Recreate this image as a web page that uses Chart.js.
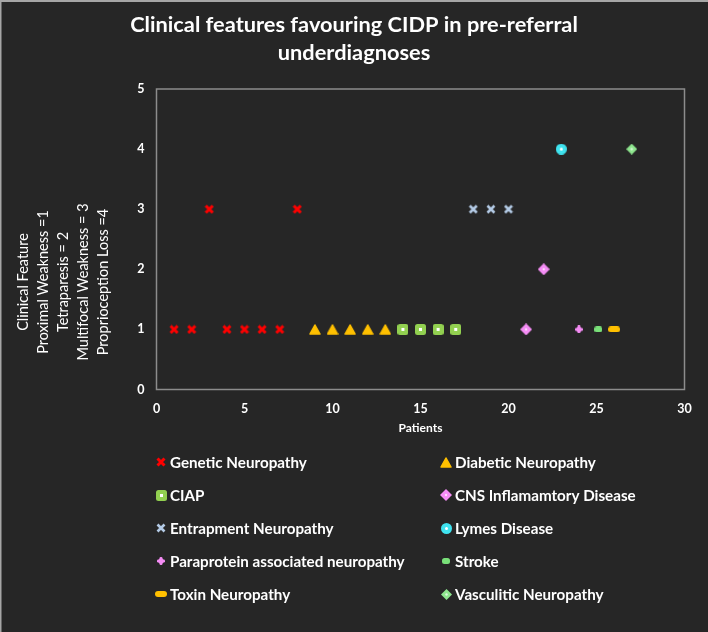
<!DOCTYPE html>
<html>
<head>
<meta charset="utf-8">
<script src="https://cdn.jsdelivr.net/npm/chart.js@4"></script>
<style>
  html, body { margin: 0; padding: 0; background: #262626; }
  canvas { display: block; }
</style>
</head>
<body>
<canvas id="c" width="708" height="632"></canvas>
<script>
// ---------- data ----------
const seriesNames = [
  "Genetic Neuropathy", "Diabetic Neuropathy", "CIAP", "CNS Inflamamtory Disease",
  "Entrapment Neuropathy", "Lymes Disease", "Paraprotein associated neuropathy", "Stroke",
  "Toxin Neuropathy", "Vasculitic Neuropathy"
];
const geneticX = [1, 2, 3, 4, 5, 6, 7, 8];
const geneticY = [1, 1, 3, 1, 1, 1, 1, 3];
const diabeticX = [9, 10, 11, 12, 13];
const diabeticY = [1, 1, 1, 1, 1];
const ciapX = [14, 15, 16, 17];
const ciapY = [1, 1, 1, 1];
const cnsX = [21, 22];
const cnsY = [1, 2];
const entrapmentX = [18, 19, 20];
const entrapmentY = [3, 3, 3];
const lymesX = [23];
const lymesY = [4];
const paraproteinX = [24];
const paraproteinY = [1];
const strokeX = [25.1];
const strokeY = [1];
const toxinX = [26];
const toxinY = [1];
const vasculiticX = [27];
const vasculiticY = [4];

const xTicks = [0, 5, 10, 15, 20, 25, 30];
const yTicks = [0, 1, 2, 3, 4, 5];
const titleLines = ["Clinical features favouring CIDP in pre-referral", "underdiagnoses"];
const xTitle = "Patients";
const yTitleLines = ["Clinical Feature", "Proximal Weakness =1", "Tetraparesis = 2", "Multifocal Weakness = 3", "Proprioception Loss =4"];

// ---------- marker images ----------
function mk(w, h, fn) {
  const c = document.createElement('canvas');
  c.width = w; c.height = h;
  fn(c.getContext('2d'), w, h);
  return c;
}
function cross(color, lw) {
  return mk(10, 10, (g) => {
    g.strokeStyle = color; g.lineWidth = lw; g.lineCap = 'butt';
    g.beginPath(); g.moveTo(1.5, 1.5); g.lineTo(8.5, 8.5); g.moveTo(8.5, 1.5); g.lineTo(1.5, 8.5); g.stroke();
  });
}
function diamond(color, s) {
  return mk(s, s, (g) => {
    g.fillStyle = color;
    g.beginPath(); g.moveTo(s / 2, 0); g.lineTo(s, s / 2); g.lineTo(s / 2, s); g.lineTo(0, s / 2); g.closePath(); g.fill();
    g.fillStyle = 'rgba(255,255,255,0.7)';
    g.beginPath(); g.arc(s / 2, s / 2, 1.2, 0, Math.PI * 2); g.fill();
  });
}
const markers = [
  cross('#FF0000', 3),
  mk(12, 11, (g) => {
    g.fillStyle = '#FFC000'; g.strokeStyle = '#FFC000'; g.lineJoin = 'round'; g.lineWidth = 1.5;
    g.beginPath(); g.moveTo(6, 1); g.lineTo(11, 10); g.lineTo(1, 10); g.closePath(); g.fill(); g.stroke();
  }),
  mk(11, 11, (g) => {
    g.fillStyle = '#92D050'; g.beginPath(); g.roundRect(0, 0, 11, 11, 2.5); g.fill();
    g.fillStyle = '#FFFFFF'; g.fillRect(4, 4, 3, 3);
  }),
  diamond('#F48CF4', 12),
  cross('#B4CBE6', 2.6),
  mk(11, 11, (g) => {
    g.fillStyle = '#3FE3EF'; g.beginPath(); g.arc(5.5, 5.5, 5.5, 0, Math.PI * 2); g.fill();
    g.fillStyle = '#FFFFFF'; g.beginPath(); g.arc(5.5, 5.5, 1.5, 0, Math.PI * 2); g.fill();
  }),
  mk(8, 8, (g) => {
    g.fillStyle = '#F48CF4';
    g.beginPath(); g.roundRect(2.5, 0, 3, 8, 1.2); g.fill();
    g.beginPath(); g.roundRect(0, 2.5, 8, 3, 1.2); g.fill();
    g.beginPath(); g.arc(4, 4, 2.6, 0, Math.PI * 2); g.fill();
  }),
  mk(8, 6, (g) => {
    g.fillStyle = '#79E079'; g.beginPath(); g.roundRect(0, 0, 8, 6, 2.5); g.fill();
  }),
  mk(12, 6, (g) => {
    g.fillStyle = '#FFC000'; g.beginPath(); g.roundRect(0, 0, 12, 6, 3); g.fill();
  }),
  diamond('#8EE68E', 11)
];

function pts(xs, ys) { return xs.map((x, i) => ({ x: x, y: ys[i] })); }
const seriesData = [
  pts(geneticX, geneticY), pts(diabeticX, diabeticY), pts(ciapX, ciapY), pts(cnsX, cnsY),
  pts(entrapmentX, entrapmentY), pts(lymesX, lymesY), pts(paraproteinX, paraproteinY),
  pts(strokeX, strokeY), pts(toxinX, toxinY), pts(vasculiticX, vasculiticY)
];

const FONT = "Lato, 'Open Sans', sans-serif";
const mctx = document.createElement('canvas').getContext('2d');
function fitSize(text, weight, targetW) {
  mctx.font = weight + ' 20px ' + FONT;
  return 20 * targetW / mctx.measureText(text).width;
}
const titleSize = fitSize(titleLines[0], 'bold', 448);
const legendSize = fitSize(seriesNames[0], 'bold', 137);

const PLOT = { left: 156.5, right: 684.5, top: 89, bottom: 389.5 };

const decor = {
  id: 'decor',
  beforeDraw(chart) {
    const g = chart.ctx;
    g.save();
    g.fillStyle = '#262626';
    g.fillRect(0, 0, chart.width, chart.height);
    g.restore();
  },
  afterDraw(chart) {
    const g = chart.ctx;
    const a = chart.chartArea;
    g.save();
    // outer border
    g.fillStyle = '#A6A6A6';
    g.fillRect(0, 0, chart.width, 2);
    g.fillRect(0, 0, 1.5, chart.height);
    // plot border
    g.strokeStyle = '#8C8C8C';
    g.lineWidth = 1.5;
    g.strokeRect(a.left, a.top, a.right - a.left, a.bottom - a.top);
    // title
    g.fillStyle = '#FFFFFF';
    g.textAlign = 'center';
    g.textBaseline = 'middle';
    g.font = 'bold ' + titleSize + 'px ' + FONT;
    g.fillText(titleLines[0], 354, 25);
    g.fillText(titleLines[1], 354, 53);
    // x title
    g.font = 'bold 12px ' + FONT;
    g.fillText(xTitle, (a.left + a.right) / 2, 428);
    // y title (rotated, multiline, centered)
    g.save();
    g.translate(0, 282);
    g.rotate(-Math.PI / 2);
    g.font = '14.5px ' + FONT;
    yTitleLines.forEach((t, i) => g.fillText(t, 0, 23 + i * 20));
    g.restore();
    // legend (two columns)
    g.textAlign = 'left';
    g.font = 'bold ' + legendSize + 'px ' + FONT;
    chart.data.datasets.forEach((ds, i) => {
      const col = i % 2, row = Math.floor(i / 2);
      const mx = col === 0 ? 161 : 446;
      const tx = col === 0 ? 170 : 455;
      const y = 462 + row * 33;
      const img = ds.pointStyle;
      g.drawImage(img, Math.round(mx - img.width / 2), Math.round(y - img.height / 2));
      g.fillStyle = '#FFFFFF';
      g.fillText(ds.label, tx, y + 1);
    });
    g.restore();
  }
};

const chart = new Chart(document.getElementById('c'), {
  type: 'scatter',
  data: {
    datasets: seriesNames.map((n, i) => ({
      label: n,
      data: seriesData[i],
      pointStyle: markers[i],
      pointRadius: 5,
      pointHoverRadius: 5,
      showLine: false
    }))
  },
  options: {
    responsive: false,
    animation: false,
    devicePixelRatio: 1,
    layout: { padding: { left: 0, right: 708 - PLOT.right, top: PLOT.top, bottom: 0 } },
    plugins: {
      legend: { display: false },
      title: { display: false },
      tooltip: { enabled: false }
    },
    scales: {
      x: {
        type: 'linear', min: 0, max: 30,
        afterFit: (s) => { s.height = 632 - PLOT.bottom; },
        afterBuildTicks: (s) => { s.ticks = xTicks.map(v => ({ value: v })); },
        grid: { display: false, drawTicks: false },
        border: { display: false },
        ticks: { color: '#FFFFFF', padding: 12, font: { family: FONT, size: 12.5, weight: 'bold' } }
      },
      y: {
        type: 'linear', min: 0, max: 5,
        afterFit: (s) => { s.width = PLOT.left; },
        afterBuildTicks: (s) => { s.ticks = yTicks.map(v => ({ value: v })); },
        grid: { display: false, drawTicks: false },
        border: { display: false },
        ticks: { color: '#FFFFFF', padding: 12, font: { family: FONT, size: 12.5, weight: 'bold' } }
      }
    }
  },
  plugins: [decor]
});
</script>
</body>
</html>
